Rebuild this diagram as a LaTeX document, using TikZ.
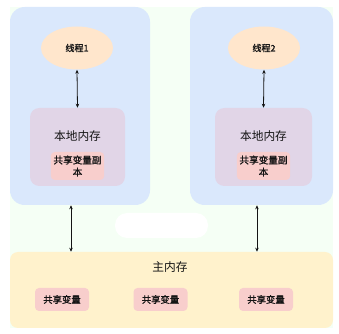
\documentclass[tikz,border=0pt]{standalone}
\usepackage{xcolor}
\usepackage{fontspec}
\setmainfont{Noto Sans CJK SC}
\newfontfamily\cjkbold[FakeBold=1.2]{Noto Sans CJK SC}
\usepackage{tikz}
\usetikzlibrary{shapes.geometric, arrows.meta, positioning, calc}
\definecolor{mydark}{RGB}{20,20,20}
\definecolor{bgmint}{RGB}{245,255,245}
\definecolor{hdrblue}{RGB}{218,232,252}
\definecolor{hdrpeach}{RGB}{255,230,204}
\definecolor{hdrpurple}{RGB}{225,213,231}
\definecolor{hdrpink}{RGB}{248,206,204}
\definecolor{hdryellow}{RGB}{255,242,204}
\tikzset{
  threadbox/.style={rectangle, fill=hdrblue, inner sep=0pt,
    minimum height=148.5pt, rounded corners=11pt},
  thread/.style={ellipse, fill=hdrpeach, inner sep=0pt,
    minimum width=54pt, minimum height=32.25pt,
    font=\cjkbold\fontsize{6.8}{8}\selectfont\color{mydark}},
  localmem/.style={rectangle, fill=hdrpurple, inner sep=0pt,
    minimum height=58.5pt, rounded corners=7pt},
  copybox/.style={rectangle, fill=hdrpink, inner sep=1pt,
    text width=38pt, align=center, minimum height=21pt,
    font=\cjkbold\fontsize{7.2}{9}\selectfont\color{mydark}, rounded corners=3pt},
  varbox/.style={rectangle, fill=hdrpink, inner sep=0pt,
    minimum width=40.5pt, minimum height=17.25pt,
    font=\cjkbold\fontsize{7}{8}\selectfont\color{mydark}, rounded corners=3pt},
  title/.style={font=\fontsize{8.8}{10}\selectfont\color{mydark}},
  dblarrow/.style={{Stealth[length=3pt,width=2.6pt]}-{Stealth[length=3pt,width=2.6pt]},
    line width=0.6pt, color=mydark}
}
\begin{document}
\begin{tikzpicture}[x=0.75pt, y=-0.75pt]
  \useasboundingbox (0,0) rectangle (339,334);
  % Background
  \fill[bgmint] (10,7) rectangle (333,328);
  \fill[white, rounded corners=9pt] (115,213) rectangle (208,238);

  % Working memory of the two threads
  \node[threadbox, minimum width=105pt] (lbox) at (80,106) {};
  \node[threadbox, minimum width=107.25pt] (rbox) at (261.5,106) {};

  \node[thread] (t1) at (77,48) {线程1};
  \node[thread] (t2) at (264,48) {线程2};

  \node[localmem, minimum width=71.25pt] (lmem1) at (77.5,147) {};
  \node[localmem, minimum width=72.75pt] (lmem2) at (263.5,147) {};
  \node[title] (lt1) at (77.5,136) {本地内存};
  \node[title] (lt2) at (263.5,136) {本地内存};
  \node[copybox] (cp1) at (77.5,166) {共享变量副\\本};
  \node[copybox] (cp2) at (263.5,166) {共享变量副\\本};

  % Main memory
  \node[rectangle, fill=hdryellow, minimum width=242.25pt, minimum height=57pt,
    rounded corners=6pt, inner sep=0pt] (main) at (171.5,290) {};
  \node[title] (mt) at (170,267) {主内存};
  \node[varbox] (v1) at (62,299.5) {共享变量};
  \node[varbox] (v2) at (160.5,299.5) {共享变量};
  \node[varbox] (v3) at (266,299.5) {共享变量};

  % Arrows
  \draw[dblarrow] (t1.south) -- (lmem1.north);
  \draw[dblarrow] (t2.south) -- (lmem2.north);
  \draw[dblarrow] ([xshift=-6.75pt]lbox.south) -- ([xshift=-6.75pt]lbox.south |- main.north);
  \draw[dblarrow] ([xshift=-3.4pt]rbox.south) -- ([xshift=-3.4pt]rbox.south |- main.north);
\end{tikzpicture}
\end{document}
